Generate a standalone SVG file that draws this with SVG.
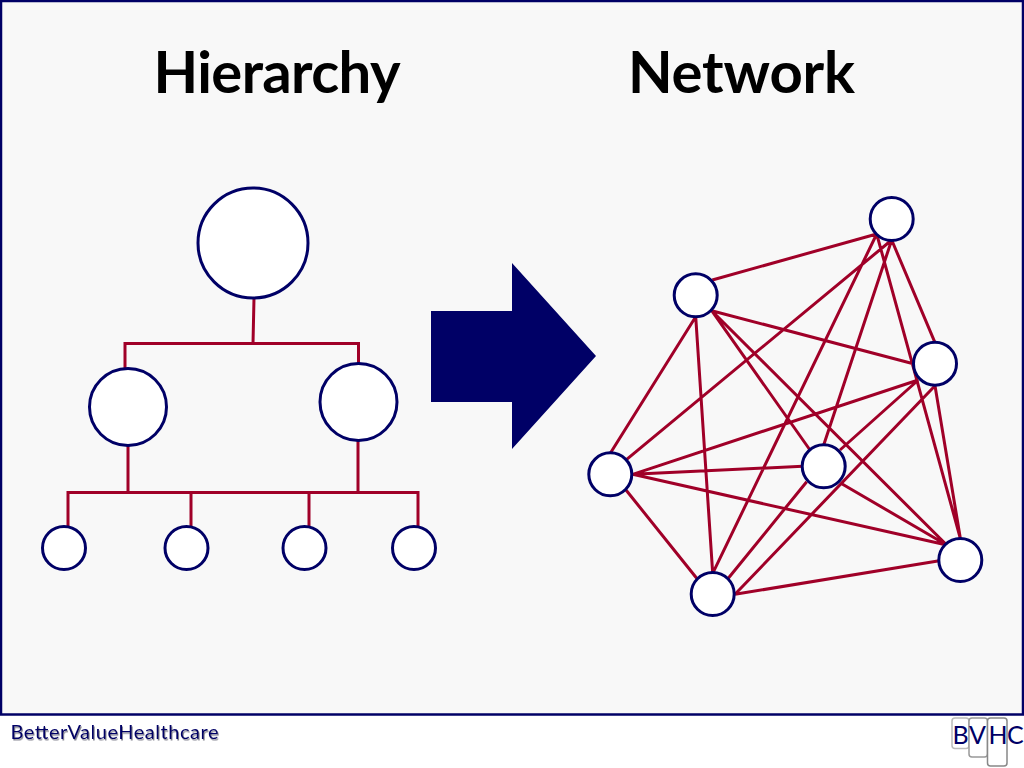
<svg xmlns="http://www.w3.org/2000/svg" width="1024" height="768" viewBox="0 0 1024 768">
<defs>
<filter id="soft" x="-5%" y="-30%" width="110%" height="170%"><feDropShadow dx="1" dy="1.500" stdDeviation=".7" flood-color="#556" flood-opacity=".7"/></filter>
<style>
.title{font-family:"Lato","Liberation Sans",sans-serif;font-weight:700;font-size:58px;fill:#000}
.c{fill:#fff;stroke:#000066;stroke-width:3}
.l{stroke:#a00028;stroke-width:3;fill:none}
.foot{font-family:"Lato","Liberation Sans",sans-serif;font-size:20px;fill:#000066}
.bv{font-family:"Lato","Liberation Sans",sans-serif;font-size:25px;fill:#000066}
.tab{fill:#fff;stroke:#999;stroke-width:1.500}
</style>
</defs>
<rect width="1024" height="768" fill="#fff"/>
<rect id="panel" x="1" y="1" width="1022" height="713.500" fill="#f8f8f8" stroke="#000066" stroke-width="2.500"/>
<text id="title-hierarchy" class="title" x="153.500" y="93" textLength="247">Hierarchy</text>
<text id="title-network" class="title" x="628" y="93" textLength="227">Network</text>
<g id="connectors">
<path class="l" d="M254 298L253 343.500M125 368V343.500H358.500V364M128 446V492.500M358 441V492.500M68 526V492.500H418V526M191 492.500V526M309 492.500V526"/>
<path class="l" d="M712.300 280L876.700 234M891.700 240L626.700 459.300M876.700 234L712.700 573.300M891.700 240L823.700 445M876.700 234L960.300 538.300M891.700 240L935 342.700M711.700 310.700L913.300 363.700M711.700 310.700L810 450M711.700 310.700L946.700 545M695.700 316.700L610.300 453.300M695.700 316.700L712.700 573.300M918.300 380L632.700 474.300M918.300 380L840 450M935 385.700L735 594.300M935 385.700L960.300 538M802.700 466.300L632.700 474.300M840 482.700L946.700 545M806.700 481.700L728.300 578.300M632.700 474.300L946.700 545M626 490L696.700 578.300M939.300 560.700L735 594.300"/>
</g>
<g id="h-root"><circle class="c" cx="253" cy="243" r="55"/></g>
<g id="h-mid-1"><circle class="c" cx="128" cy="407" r="38.500"/></g>
<g id="h-mid-2"><circle class="c" cx="358.500" cy="402" r="38.500"/></g>
<g id="h-leaf-1"><circle class="c" cx="64" cy="548" r="21.500"/></g>
<g id="h-leaf-2"><circle class="c" cx="186.500" cy="548" r="21.500"/></g>
<g id="h-leaf-3"><circle class="c" cx="304.500" cy="548" r="21.500"/></g>
<g id="h-leaf-4"><circle class="c" cx="414" cy="548" r="21.500"/></g>
<g id="arrow"><polygon points="431,311 512,311 512,263 596,356 512,449 512,402 431,402" fill="#000066"/></g>
<g id="n-a"><circle class="c" cx="891.700" cy="219" r="21.500"/></g>
<g id="n-b"><circle class="c" cx="695.700" cy="295.300" r="21.500"/></g>
<g id="n-c"><circle class="c" cx="935" cy="363.700" r="21.500"/></g>
<g id="n-d"><circle class="c" cx="823.700" cy="466.300" r="21.500"/></g>
<g id="n-e"><circle class="c" cx="610.300" cy="474.300" r="21.500"/></g>
<g id="n-f"><circle class="c" cx="960.300" cy="560" r="21.500"/></g>
<g id="n-g"><circle class="c" cx="712.700" cy="594" r="21.500"/></g>
<g id="footer">
<text class="foot" x="10.500" y="739" textLength="208" filter="url(#soft)">BetterValueHealthcare</text>
</g>
<g id="logo">
<rect class="tab" x="952" y="718" width="17" height="30.500" rx="3" style="stroke:#bbb"/>
<rect class="tab" x="969" y="718" width="18.500" height="39" rx="3"/>
<rect class="tab" x="987.500" y="718" width="19.500" height="48" rx="3" style="stroke:#888"/>
<text class="bv" x="952.500 969 988.500 1007" y="743.500">BVHC</text>
</g>
</svg>
